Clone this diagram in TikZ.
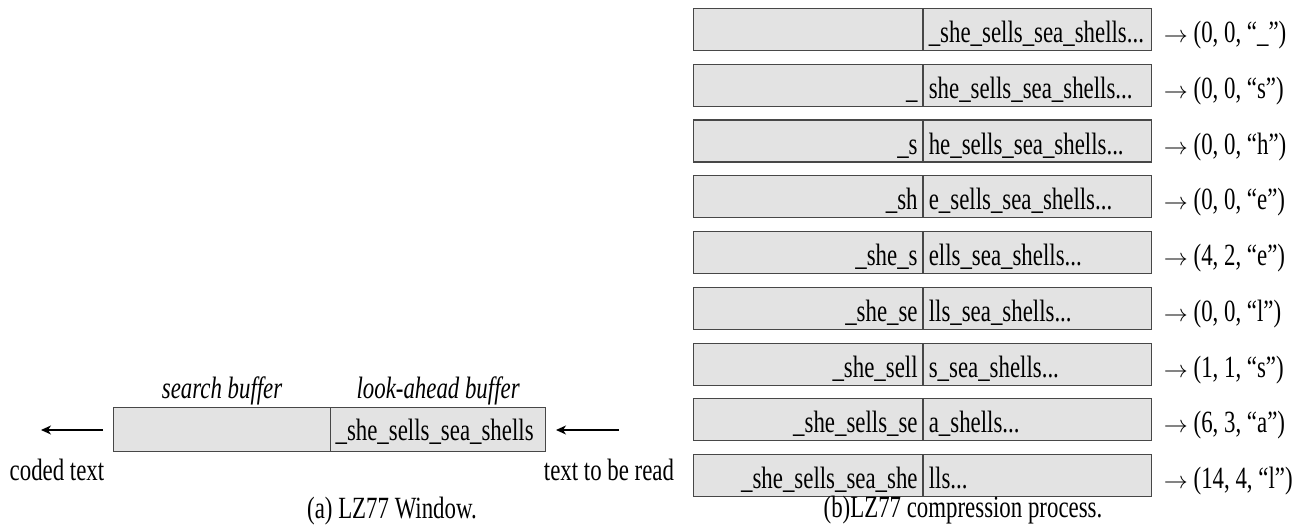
\documentclass[tikz,border=0pt]{standalone}
\usepackage{fontspec}
\setmainfont[FakeStretch=0.74]{Liberation Serif}
\usepackage{graphicx}
\usetikzlibrary{arrows.meta}
\definecolor{cellfill}{gray}{0.89}
\definecolor{cellline}{gray}{0.28}
\newcommand{\ra}{\resizebox{24bp}{!}{$\rightarrow$}}
% one step of the compression: row number, search part, look-ahead part, output triple
\newcommand{\lzrow}[4]{%
  \node[srch] (s#1) at (693,{8+55.75*(#1-1)}) {#2};
  \node[look] (l#1) at (s#1.north east) {#3};
  \node[result] (r#1) at ([xshift=8bp]l#1.base east) {\ra\ #4};
}
\begin{document}
\begin{tikzpicture}[x=1bp,y=-1bp,
  every node/.style={font=\fontsize{31}{36}\selectfont},
  cell/.style={draw=cellline, fill=cellfill, line width=1.2bp,
    inner xsep=5bp, inner ysep=4bp, text height=30bp, text depth=4bp,
    anchor=north west},
  srch/.style={cell, text width=219bp, align=right},
  look/.style={cell, text width=218bp, align=left},
  wcell/.style={cell, text height=29bp, text depth=7bp},
  result/.style={anchor=base west},
  caption/.style={anchor=base},
  bufname/.style={anchor=base, font=\fontsize{31}{36}\selectfont\itshape},
  flow/.style={line width=1.3bp, draw=black,
    -{Stealth[length=10bp,width=9bp,inset=3bp]}},
]
\useasboundingbox (0,0) rectangle (1304,529);

% ---- (a) the sliding window ----
\node[wcell, text width=207bp, align=right] (wsrch) at (113,407) {};
\node[wcell, text width=205bp, align=left] (wlook) at (330,407)
  {\_she\_sells\_sea\_shells};
\node[bufname] (tsrch) at ([yshift=9bp]wsrch.north) {search buffer};
\node[bufname] (tlook) at ([yshift=9bp]wlook.north) {look-ahead buffer};

\coordinate (outtail) at (103,430);
\coordinate (outtip) at (41,430);
\draw[flow] (outtail) -- (outtip);
\coordinate (intail) at (619,430);
\coordinate (intip) at (556,430);
\draw[flow] (intail) -- (intip);

\node[caption] (coded) at (57,480) {coded text};
\node[caption] (toread) at (609,480) {text to be read};
\node[caption] (capa) at (392,518) {(a) LZ77 Window.};

% ---- (b) the compression steps ----
\lzrow{1}{}{\_she\_sells\_sea\_shells...}{(0, 0, “\_”)}
\lzrow{2}{\_}{she\_sells\_sea\_shells...}{(0, 0, “s”)}
\lzrow{3}{\_s}{he\_sells\_sea\_shells...}{(0, 0, “h”)}
\lzrow{4}{\_sh}{e\_sells\_sea\_shells...}{(0, 0, “e”)}
\lzrow{5}{\_she\_s}{ells\_sea\_shells...}{(4, 2, “e”)}
\lzrow{6}{\_she\_se}{lls\_sea\_shells...}{(0, 0, “l”)}
\lzrow{7}{\_she\_sell}{s\_sea\_shells...}{(1, 1, “s”)}
\lzrow{8}{\_she\_sells\_se}{a\_shells...}{(6, 3, “a”)}
\lzrow{9}{\_she\_sells\_sea\_she}{lls...}{(14, 4, “l”)}

\node[caption] (capb) at (963,517) {(b)LZ77 compression process.};
\end{tikzpicture}
\end{document}
